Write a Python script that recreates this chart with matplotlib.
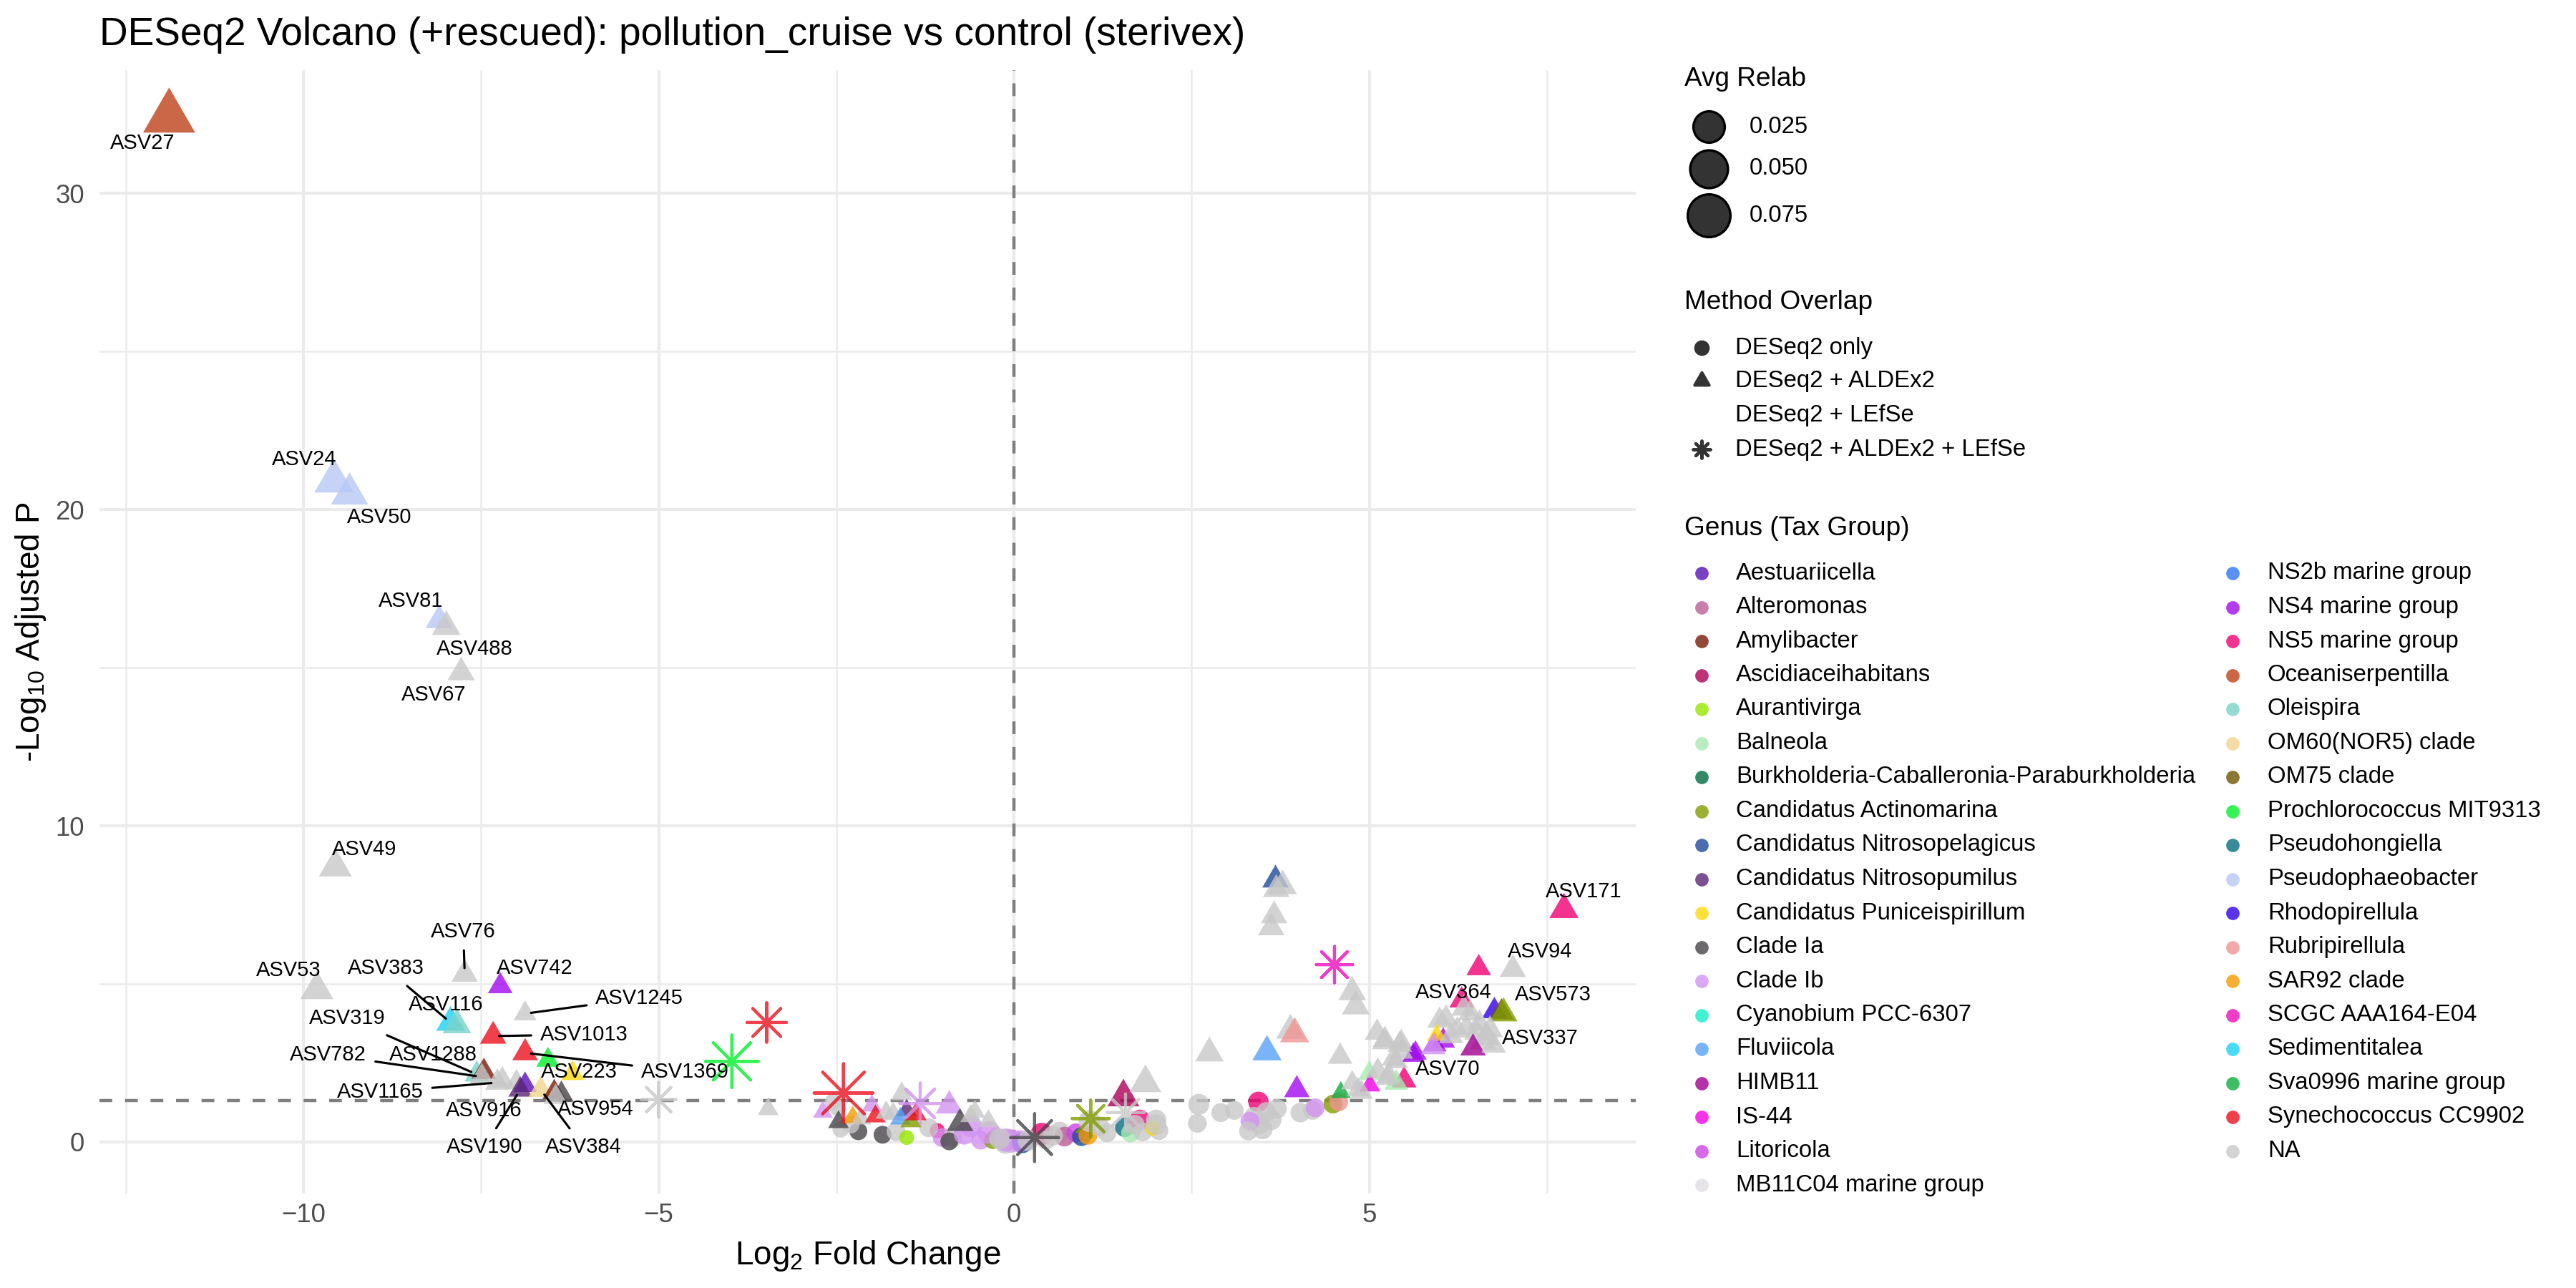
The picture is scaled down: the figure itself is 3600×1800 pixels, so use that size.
import numpy as np
import matplotlib
matplotlib.use("Agg")
import matplotlib.pyplot as plt
from matplotlib.path import Path

plt.rcParams['font.family'] = ['Liberation Sans', 'DejaVu Sans']
plt.rcParams['mathtext.fontset'] = 'custom'
plt.rcParams['mathtext.rm'] = 'Liberation Sans'
plt.rcParams['mathtext.it'] = 'Liberation Sans:italic'

# ---- genus palette (legend order) ----
genus_names = [
    'Aestuariicella', 'Alteromonas', 'Amylibacter', 'Ascidiaceihabitans', 'Aurantivirga',
    'Balneola', 'Burkholderia-Caballeronia-Paraburkholderia', 'Candidatus Actinomarina',
    'Candidatus Nitrosopelagicus', 'Candidatus Nitrosopumilus', 'Candidatus Puniceispirillum',
    'Clade Ia', 'Clade Ib', 'Cyanobium PCC-6307', 'Fluviicola', 'HIMB11', 'IS-44', 'Litoricola',
    'MB11C04 marine group', 'NS2b marine group', 'NS4 marine group', 'NS5 marine group',
    'Oceaniserpentilla', 'Oleispira', 'OM60(NOR5) clade', 'OM75 clade', 'Prochlorococcus MIT9313',
    'Pseudohongiella', 'Pseudophaeobacter', 'Rhodopirellula', 'Rubripirellula', 'SAR92 clade',
    'SCGC AAA164-E04', 'Sedimentitalea', 'Sva0996 marine group', 'Synechococcus CC9902', 'NA']
genus_codes = [
    'Aest', 'Alte', 'Amyl', 'Asci', 'Aura', 'Baln', 'Burk', 'CAct', 'CNpe', 'CNpu', 'CPun',
    'CIa', 'CIb', 'Cyan', 'Fluv', 'HIMB', 'IS44', 'Lito', 'MB11', 'NS2b', 'NS4', 'NS5',
    'Ocea', 'Olei', 'OM60', 'OM75', 'Proc', 'Phon', 'Pphae', 'Rhod', 'Rubr', 'SAR92',
    'SCGC', 'Sedi', 'Sva', 'Syn', 'NA']
genus_colors = [
    '#5A0FB5', '#BC5F9A', '#781C09', '#AE0056', '#99E600', '#A6EAB0', '#006D40', '#839C01',
    '#1E4A9A', '#5A2677', '#FDDA09', '#49454A', '#D392F1', '#0DEFC9', '#56A1F5', '#A00090',
    '#F300E6', '#CC45E5', '#DFDCE2', '#2E77F3', '#A109F0', '#F10073', '#BF4019', '#7BD3C8',
    '#F1D58F', '#6F5500', '#04F12A', '#076E83', '#B8C8F6', '#3100EC', '#EF9492', '#F69B00',
    '#EC0CBC', '#1DD1F7', '#0DAE3D', '#EB101F', '#C8C8C8']

# ---- points: log2 fold change, -log10 padj, avg relab, method, genus ----
# method: D = DESeq2 only, A = DESeq2 + ALDEx2, T = DESeq2 + ALDEx2 + LEfSe
lfc = [
    # left, labelled
    -11.89, -9.57, -9.35, -8.09, -7.99, -7.78, -9.55, -9.81, -7.73, -7.23,
    -7.93, -7.84, -6.88, -7.33, -6.88, -6.56, -6.21, -7.56, -7.46, -7.49,
    -7.27, -7.20, -7.00, -6.88, -6.95, -6.66, -6.47, -6.37, -6.45, -5.00,
    -3.46, -3.48, -3.97, -2.40,
    # centre left
    -2.69, -2.55, -2.48, -2.47, -2.44, -2.27, -2.15, -2.19, -2.00, -1.95,
    -1.80, -1.70, -1.85, -1.58, -1.66, -1.51, -1.60, -1.45, -1.38, -1.51,
    -1.32, -0.91, -0.76, -1.08, -1.01, -0.86, -0.91, -0.61, -0.61, -0.47,
    -0.36, -0.25, -0.05, -0.30, -0.12, -0.55,
    # centre right
    -0.11, 0.12, 0.08, 0.29, 0.39, 0.45, 0.64, 0.71, 0.87, 0.95,
    1.04, 1.08, 1.06, 1.31, 1.54, 1.85, 1.57, 1.56, 1.64, 1.77,
    1.81, 2.00, 2.04, 1.95, 2.60, 2.58, 2.91, 3.10, 3.44, 2.75,
    3.56, 3.89, 3.95, 4.59, 3.98, 3.38, 3.45, 3.55, 3.62, 3.50,
    3.32, 3.70, 3.30, 4.03, 4.20, 4.24, 4.49, 4.57, 4.60, 4.76,
    4.84, 5.00, 5.01, 5.11, 5.22, 5.65, 5.49, 5.45, 5.38, 5.28,
    5.38,
    # upper right
    3.68, 3.78, 3.69, 3.66, 3.62, 4.51, 4.76, 4.81, 6.54, 7.02,
    7.74, 6.30, 6.33, 6.42, 6.76, 6.86, 6.89, 5.99, 6.08, 6.24,
    6.37, 6.51, 6.60, 6.66, 6.46, 6.04, 5.92, 5.95, 5.90, 5.62,
    5.21, 5.43, 5.34, 5.45, 5.12, 5.25, 4.89, 6.70, 6.75, 6.15,
    6.55,
    # extra crowding near zero
    -0.35, -0.20, 0.20, 0.55, -0.70, -1.20, 1.20, -2.30, 1.70, 2.00]
neglog_padj = [
    32.40, 20.90, 20.50, 16.50, 16.30, 14.85, 8.70, 4.82, 5.31, 4.93,
    3.78, 3.70, 4.06, 3.35, 2.82, 2.59, 2.17, 2.14, 2.22, 2.06,
    1.88, 1.95, 1.88, 1.80, 1.65, 1.65, 1.57, 1.50, 1.42, 1.34,
    1.04, 3.78, 2.55, 1.55,
    0.95, 1.27, 1.08, 0.63, 0.40, 0.78, 0.74, 0.34, 1.15, 0.81,
    0.93, 0.89, 0.23, 1.52, 0.33, 1.00, 0.74, 0.66, 0.88, 0.14,
    1.22, 1.15, 0.59, 0.36, 0.14, 0.14, 0.02, 0.51, 0.82, 0.06,
    0.66, 0.14, 0.03, 0.05, -0.02, 0.96,
    0.06, -0.02, 0.02, 0.14, 0.25, 0.06, 0.32, 0.17, 0.29, 0.17,
    0.21, 0.74, 0.66, 0.29, 1.42, 1.87, 0.93, 0.47, 0.29, 0.70,
    0.32, 0.70, 0.36, 0.44, 1.19, 0.59, 0.93, 1.00, 1.27, 2.81,
    2.85, 3.53, 3.42, 2.70, 1.65, 0.80, 0.55, 0.95, 0.70, 0.40,
    0.66, 1.05, 0.35, 0.93, 1.00, 1.08, 1.20, 1.27, 1.57, 1.87,
    1.65, 2.17, 1.79, 3.46, 3.23, 2.81, 1.95, 3.15, 2.55, 2.09,
    1.87,
    8.29, 8.10, 7.99, 7.16, 6.78, 5.61, 4.74, 4.29, 5.50, 5.46,
    7.35, 4.48, 4.22, 4.07, 4.14, 4.10, 4.07, 3.84, 3.91, 3.53,
    3.61, 3.46, 3.16, 3.31, 2.97, 3.20, 3.08, 3.38, 3.00, 2.74,
    3.16, 3.08, 2.63, 2.85, 2.25, 2.02, 1.57, 3.55, 3.05, 3.35,
    3.75,
    0.30, 0.10, 0.05, 0.20, 0.25, 0.45, 0.50, 0.55, 0.55, 0.55]
avg_relab = [
    0.081, 0.033, 0.027, 0.007, 0.009, 0.007, 0.017, 0.017, 0.006, 0.004,
    0.009, 0.009, 0.0025, 0.006, 0.005, 0.0025, 0.0025, 0.004, 0.004, 0.004,
    0.004, 0.004, 0.003, 0.003, 0.003, 0.004, 0.003, 0.004, 0.003, 0.0067,
    0.001, 0.013, 0.039, 0.056,
    0.0005, 0.0008, 0.0008, 0.001, 0.0008, 0.0008, 0.0008, 0.002, 0.0008, 0.001,
    0.0012, 0.0012, 0.002, 0.0015, 0.003, 0.0008, 0.0008, 0.0012, 0.0012, 0.0002,
    0.015, 0.007, 0.006, 0.0003, 0.003, 0.003, 0.002, 0.008, 0.001, 0.003,
    0.001, 0.003, 0.010, 0.0015, 0.008, 0.001,
    0.010, 0.006, 0.008, 0.028, 0.0085, 0.003, 0.005, 0.004, 0.003, 0.003,
    0.003, 0.010, 0.007, 0.003, 0.015, 0.015, 0.010, 0.004, 0.003, 0.005,
    0.003, 0.005, 0.003, 0.0003, 0.006, 0.003, 0.003, 0.003, 0.005, 0.009,
    0.010, 0.009, 0.010, 0.004, 0.005, 0.004, 0.004, 0.004, 0.005, 0.004,
    0.003, 0.004, 0.003, 0.004, 0.003, 0.003, 0.003, 0.003, 0.0005, 0.002,
    0.002, 0.002, 0.001, 0.004, 0.004, 0.002, 0.004, 0.003, 0.003, 0.003,
    0.003,
    0.006, 0.009, 0.006, 0.006, 0.006, 0.009, 0.008, 0.008, 0.004, 0.006,
    0.010, 0.004, 0.004, 0.004, 0.004, 0.004, 0.008, 0.004, 0.004, 0.004,
    0.004, 0.004, 0.005, 0.005, 0.005, 0.003, 0.003, 0.0005, 0.004, 0.002,
    0.004, 0.004, 0.003, 0.003, 0.003, 0.003, 0.002, 0.005, 0.004, 0.004,
    0.004,
    0.009, 0.006, 0.006, 0.004, 0.006, 0.003, 0.004, 0.002, 0.004, 0.005]
method = list(
    'AAAAAAAAAA' 'AAAAAAAAAA' 'AAAAAAAAAT' 'ATTT'
    'ADDADAADAA' 'AADADAAAAD' 'TAADDDDDAD' 'ADDDDA'
    'DDDTDDDDDD' 'DTDDAATDDD' 'DDDDDDDDDA' 'AAAAADDDDD' 'DDDDDDDDAA'
    'AAAAAAAAAA' 'A'
    'AAAAATAAAA' 'AAAAAAAAAA' 'AAAAAAAAAA' 'AAAAAAAAAA' 'A'
    'DDDDDDDDDD')
genus = [
    'Ocea', 'Pphae', 'Pphae', 'Pphae', 'NA', 'NA', 'NA', 'NA', 'NA', 'NS4',
    'Sedi', 'Olei', 'NA', 'Syn', 'Syn', 'Proc', 'CPun', 'Olei', 'Amyl', 'NA',
    'NA', 'NA', 'NA', 'Aest', 'CNpu', 'OM60', 'Amyl', 'CIa', 'NA', 'NA',
    'NA', 'Syn', 'Proc', 'Syn',
    'CIb', 'NA', 'NA', 'CIa', 'NA', 'SAR92', 'NA', 'CIa', 'CIb', 'Syn',
    'NA', 'NA', 'CIa', 'NA', 'NA', 'CNpu', 'Fluv', 'CAct', 'Syn', 'Aura',
    'CIb', 'CIb', 'CIa', 'NS5', 'CIb', 'NA', 'CIa', 'CIb', 'NA', 'CIb',
    'NA', 'NA', 'CIb', 'CAct', 'NA', 'NA',
    'CIb', 'CNpe', 'CIb', 'CIa', 'NS5', 'NA', 'NA', 'Alte', 'Lito', 'CNpe',
    'SAR92', 'CAct', 'NA', 'NA', 'Asci', 'NA', 'NA', 'Phon', 'Baln', 'NS5',
    'NA', 'NA', 'NA', 'CPun', 'NA', 'NA', 'NA', 'NA', 'NS5', 'NA',
    'Fluv', 'NA', 'Rubr', 'NA', 'NS4', 'NA', 'NA', 'NA', 'NA', 'NA',
    'CIb', 'NA', 'NA', 'NA', 'NA', 'CIb', 'CAct', 'Rubr', 'Sva', 'NA',
    'NA', 'Baln', 'IS44', 'NA', 'NA', 'NS4', 'NS5', 'NA', 'NA', 'NA',
    'Baln',
    'CNpe', 'NA', 'NA', 'NA', 'NA', 'SCGC', 'NA', 'NA', 'NS5', 'NA',
    'NS5', 'NS5', 'NA', 'NA', 'Rhod', 'OM75', 'CAct', 'NA', 'NA', 'NA',
    'NA', 'NA', 'NA', 'NA', 'HIMB', 'NS4', 'NS4', 'CPun', 'CIb', 'NS4',
    'NA', 'NA', 'NA', 'NA', 'NA', 'NA', 'NA', 'NA', 'NA', 'NA',
    'NA',
    'CIb', 'NA', 'NA', 'NA', 'CIb', 'NA', 'NA', 'NA', 'NA', 'NA']

# ---- repelled labels ----
label_text = ['ASV27', 'ASV24', 'ASV50', 'ASV81', 'ASV488', 'ASV67', 'ASV49', 'ASV53',
              'ASV76', 'ASV383', 'ASV742', 'ASV1245', 'ASV116', 'ASV319', 'ASV1013',
              'ASV782', 'ASV1288', 'ASV223', 'ASV1369', 'ASV1165', 'ASV916', 'ASV954',
              'ASV190', 'ASV384', 'ASV171', 'ASV94', 'ASV364', 'ASV573', 'ASV337', 'ASV70']
label_idx = [0, 1, 2, 3, 4, 5, 6, 7, 8, 10, 9, 12, 11, 17, 13, 19, 18, 16, 14, 20,
             23, 27, 24, 25, 141, 140, 142, 147, 154, 126]
label_x = [-12.26, -9.99, -8.93, -8.49, -7.59, -8.16, -9.14, -10.21, -7.75, -8.84,
           -6.74, -5.27, -7.99, -9.38, -6.05, -9.65, -8.17, -6.12, -4.63, -8.92,
           -7.46, -5.89, -7.45, -6.06, 8.02, 7.40, 6.19, 7.59, 7.40, 6.10]
label_y = [31.60, 21.58, 19.76, 17.11, 15.60, 14.14, 9.26, 5.42, 6.66, 5.50,
           5.50, 4.55, 4.35, 3.92, 3.40, 2.76, 2.76, 2.22, 2.22, 1.58,
           1.00, 1.04, -0.15, -0.15, 7.93, 6.01, 4.73, 4.66, 3.28, 2.30]
label_segment = ['ASV76', 'ASV383', 'ASV1245', 'ASV319', 'ASV1013', 'ASV782',
                 'ASV1369', 'ASV1165', 'ASV190', 'ASV384']

size_breaks = [0.025, 0.050, 0.075]
method_labels = ['DESeq2 only', 'DESeq2 + ALDEx2', 'DESeq2 + LEfSe', 'DESeq2 + ALDEx2 + LEfSe']
padj_cut = -np.log10(0.05)

ALPHA = 0.8
tri = Path([(0, 0.577), (-0.5, -0.289), (0.5, -0.289), (0, 0.577)],
           [Path.MOVETO, Path.LINETO, Path.LINETO, Path.CLOSEPOLY])
star = (8, 2, 0)


def diam(v):
    # point diameter (pt) from average relative abundance
    return 4.5 + 33 * np.sqrt(np.asarray(v))


col_of = dict(zip(genus_codes, genus_colors))
x = np.array(lfc)
y = np.array(neglog_padj)
r = np.array(avg_relab)
m = np.array(method)
cols = np.array([col_of[g] for g in genus])

fig = plt.figure(figsize=(12, 6), dpi=300)
W, H = 3600, 1800
px_l, px_r, px_t, px_b = 139, 2286, 98, 1668
ax = fig.add_axes([px_l / W, 1 - px_b / H, (px_r - px_l) / W, (px_b - px_t) / H])
ax.set_xlim(-12.87, 8.75)
ax.set_ylim(-1.63, 33.9)

ax.set_xticks([-10, -5, 0, 5])
ax.set_xticks([-12.5, -7.5, -2.5, 2.5, 7.5], minor=True)
ax.set_yticks([0, 10, 20, 30])
ax.set_yticks([5, 15, 25], minor=True)
ax.grid(which='major', color='#EBEBEB', lw=1.0)
ax.grid(which='minor', color='#EBEBEB', lw=0.6)
ax.set_axisbelow(True)
for s in ax.spines.values():
    s.set_visible(False)
ax.tick_params(which='both', length=0, labelsize=8.8, labelcolor='#4D4D4D')
ax.tick_params(axis='x', pad=3)
ax.tick_params(axis='y', pad=5)

ax.axhline(padj_cut, color='#7F7F7F', lw=1.07, ls=(0, (4, 4)), zorder=1)
ax.axvline(0, color='#7F7F7F', lw=1.07, ls=(0, (4, 4)), zorder=1)

d = diam(r)
sel = m == 'D'
ax.scatter(x[sel], y[sel], s=d[sel] ** 2, c=cols[sel], marker='o', alpha=ALPHA,
           linewidths=0, zorder=2)
sel = m == 'A'
ax.scatter(x[sel], y[sel], s=(1.45 * d[sel]) ** 2, c=cols[sel], marker=tri, alpha=ALPHA,
           linewidths=0, zorder=3)
sel = m == 'T'
ax.scatter(x[sel], y[sel], s=(1.6 * d[sel]) ** 2, c=cols[sel], marker=star, alpha=ALPHA,
           linewidths=1.0, zorder=4)

for t, i, tx, ty in zip(label_text, label_idx, label_x, label_y):
    if t in label_segment:
        ax.annotate(t, xy=(x[i], y[i]), xytext=(tx, ty), fontsize=7.0, ha='center',
                    va='center', zorder=6,
                    arrowprops=dict(arrowstyle='-', color='black', lw=0.75,
                                    shrinkA=1, shrinkB=2))
    else:
        ax.text(tx, ty, t, fontsize=7.0, ha='center', va='center', zorder=6)

ax.set_title('DESeq2 Volcano (+rescued): pollution_cruise vs control (sterivex)',
             loc='left', fontsize=13.2, pad=0, y=1 + (px_t - 63) / (px_b - px_t))
ax.set_xlabel(r'Log$_{\mathregular{2}}$ Fold Change', fontsize=11, va='baseline')
ax.xaxis.set_label_coords(0.5, -(1767 - px_b) / (px_b - px_t))
ax.set_ylabel(r'-Log$_{\mathregular{10}}$ Adjusted P', fontsize=11, va='baseline')
ax.yaxis.set_label_coords((55 - px_l) / (px_r - px_l), 0.5)

# ---- legends, laid out in pixel space to the right of the panel ----
lax = fig.add_axes([0, 0, 1, 1], facecolor='none')
lax.set_xlim(0, W)
lax.set_ylim(H, 0)
lax.axis('off')

LT, LX = 8.9, 7.9
lax.text(2354, 110, 'Avg Relab', fontsize=LT, va='center')
for v, yy in zip(size_breaks, [177, 236, 301]):
    lax.scatter(2388, yy, s=(diam(v) + 0.8) ** 2, c='#333333', edgecolors='black',
                linewidths=0.8)
    lax.text(2445, yy, f'{v:.3f}', fontsize=LX, va='center')

lax.text(2354, 422, 'Method Overlap', fontsize=LT, va='center')
method_marks = ['o', tri, None, star]
method_ms = [4.2, 5.6, 0, 5.8]
for lab, mk, ms, yy in zip(method_labels, method_marks, method_ms, [486, 532, 580, 628]):
    if mk is not None:
        lax.scatter(2378, yy, s=ms ** 2, c='#333333', marker=mk, linewidths=1.0)
    lax.text(2425, yy, lab, fontsize=LX, va='center')

lax.text(2354, 739, 'Genus (Tax Group)', fontsize=LT, va='center')
for k, (name, colr) in enumerate(zip(genus_names, genus_colors)):
    col_i, row_i = divmod(k, 19)
    kx = 2378 if col_i == 0 else 3120
    tx = 2426 if col_i == 0 else 3169
    yy = 801 + 47.5 * row_i
    lax.scatter(kx, yy, s=4.5 ** 2, c=colr, alpha=ALPHA, linewidths=0)
    lax.text(tx, yy, name, fontsize=LX, va='center')

fig.savefig('out.png', dpi=300, facecolor='white')
